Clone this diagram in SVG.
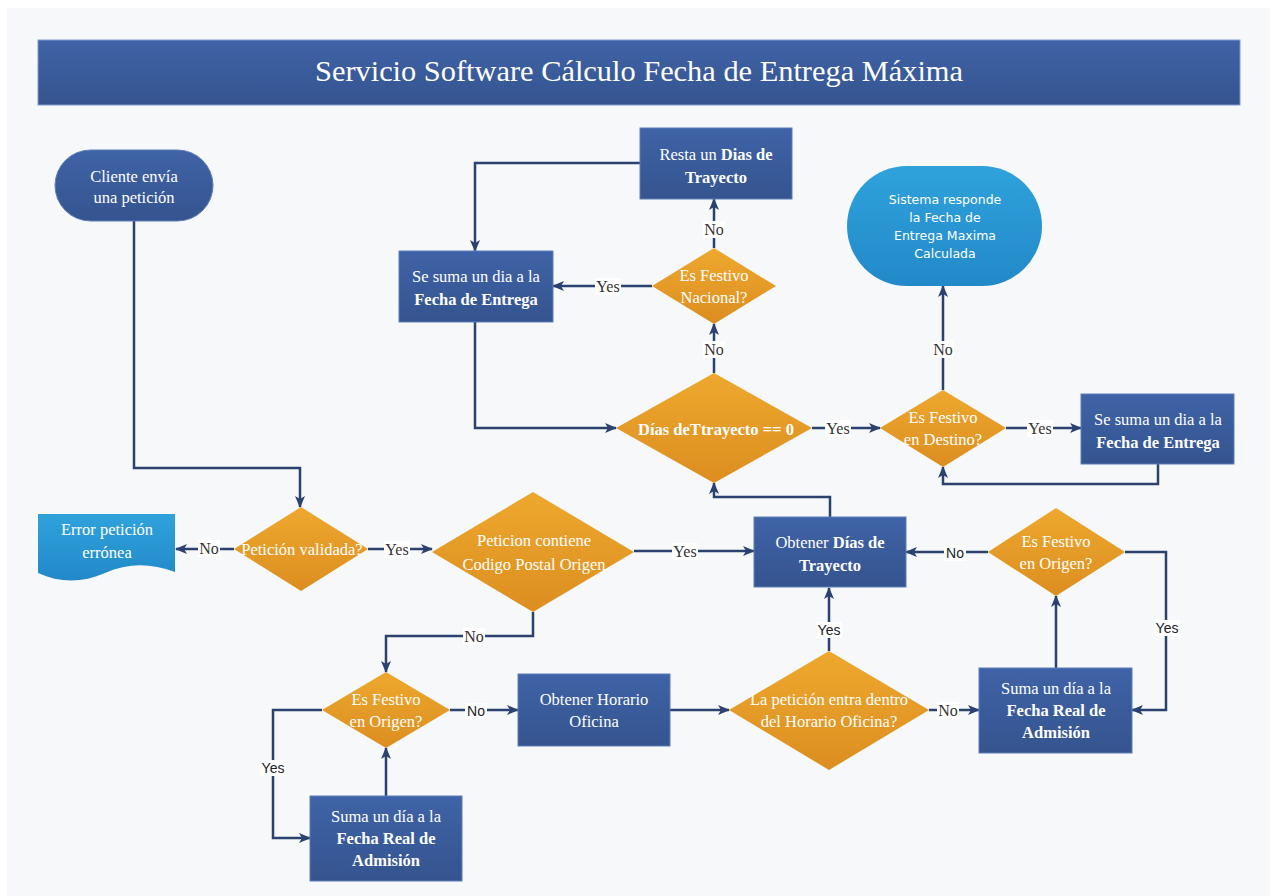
<svg xmlns="http://www.w3.org/2000/svg" width="1277" height="896" viewBox="0 0 1277 896">
<defs>
<linearGradient id="gBox" x1="0" y1="0" x2="0" y2="1"><stop offset="0" stop-color="#3f63a7"/><stop offset="1" stop-color="#35548f"/></linearGradient>
<linearGradient id="gDia" x1="0" y1="0" x2="0" y2="1"><stop offset="0" stop-color="#eea82e"/><stop offset="1" stop-color="#dc8e20"/></linearGradient>
<linearGradient id="gLight" x1="0" y1="0" x2="0" y2="1"><stop offset="0" stop-color="#2fa2dc"/><stop offset="1" stop-color="#2289c8"/></linearGradient>
<marker id="arr" viewBox="0 0 12 10" refX="11" refY="5" markerWidth="12" markerHeight="10" markerUnits="userSpaceOnUse" orient="auto"><path d="M0,0 L12,5 L0,10 L3,5 Z" fill="#2b4170"/></marker>
<style>
.box{fill:url(#gBox);stroke:#5f7fba;stroke-width:1}
.dia{fill:url(#gDia)}
.light{fill:url(#gLight)}
.t{font-family:"Liberation Serif",serif;font-size:16.5px;fill:#ffffff;text-anchor:middle}
.b{font-weight:bold}
.s{font-family:"DejaVu Sans","Liberation Sans",sans-serif;font-size:12.5px;fill:#ffffff;text-anchor:middle}
.c{fill:none;stroke:#2b4170;stroke-width:2.5;marker-end:url(#arr)}
.lbg{fill:#ffffff}
.ls{font-family:"Liberation Serif",serif;font-size:16px;fill:#333333;text-anchor:middle}
.la{font-family:"Liberation Sans",sans-serif;font-size:14px;fill:#222222;text-anchor:middle}
</style>
</defs>
<rect x="0" y="0" width="1277" height="896" fill="#ffffff"/>
<rect x="7" y="8" width="1263" height="888" fill="#f6f8f9"/>
<g id="title">
<rect x="38" y="40" width="1202" height="65" fill="url(#gBox)" stroke="#7f9ccf" stroke-width="1"/>
<text x="639" y="81" font-family="Liberation Serif, serif" font-size="29" fill="#ffffff" text-anchor="middle" textLength="648" lengthAdjust="spacingAndGlyphs">Servicio Software Cálculo Fecha de Entrega Máxima</text>
</g>
<g id="connectors">
<path class="c" d="M134,221 V468 H300 V507"/>
<path class="c" d="M234,549 H176"/>
<path class="c" d="M368,549 H432"/>
<path class="c" d="M634,551 H754"/>
<path class="c" d="M830,517 V497 H714 V483"/>
<path class="c" d="M714,373 V324"/>
<path class="c" d="M714,248 V199"/>
<path class="c" d="M640,163 H475 V251"/>
<path class="c" d="M652,286 H553"/>
<path class="c" d="M475,322 V428 H616"/>
<path class="c" d="M812,428 H880"/>
<path class="c" d="M1006,428 H1081"/>
<path class="c" d="M1158,464 V484 H943 V467"/>
<path class="c" d="M943,390 V286"/>
<path class="c" d="M533,612 V636 H386 V672"/>
<path class="c" d="M450,710 H518"/>
<path class="c" d="M670,710 H729"/>
<path class="c" d="M829,651 V588"/>
<path class="c" d="M929,710 H979"/>
<path class="c" d="M1056,668 V596"/>
<path class="c" d="M988,552 H906"/>
<path class="c" d="M1125,552 H1166 V710 H1132"/>
<path class="c" d="M322,710 H273 V838 H310"/>
<path class="c" d="M386,796 V748"/>
<g id="labels">
<rect class="lbg" x="198" y="540" width="22" height="17"/><text class="ls" x="209" y="554">No</text>
<rect class="lbg" x="384" y="541" width="26" height="17"/><text class="ls" x="397" y="555">Yes</text>
<rect class="lbg" x="672" y="543" width="26" height="17"/><text class="ls" x="685" y="557">Yes</text>
<rect class="lbg" x="463" y="628" width="22" height="17"/><text class="ls" x="474" y="642">No</text>
<rect class="lbg" x="595" y="278" width="26" height="17"/><text class="ls" x="608" y="292">Yes</text>
<rect class="lbg" x="703" y="221" width="22" height="17"/><text class="ls" x="714" y="235">No</text>
<rect class="lbg" x="703" y="341" width="22" height="17"/><text class="ls" x="714" y="355">No</text>
<rect class="lbg" x="825" y="420" width="26" height="17"/><text class="ls" x="838" y="434">Yes</text>
<rect class="lbg" x="1027" y="420" width="26" height="17"/><text class="ls" x="1040" y="434">Yes</text>
<rect class="lbg" x="932" y="341" width="22" height="17"/><text class="ls" x="943" y="355">No</text>
<rect class="lbg" x="937" y="702" width="22" height="17"/><text class="ls" x="948" y="716">No</text>
<rect class="lbg" x="465" y="703" width="22" height="16"/><text class="la" x="476" y="716">No</text>
<rect class="lbg" x="816" y="622" width="26" height="16"/><text class="la" x="829" y="635">Yes</text>
<rect class="lbg" x="944" y="545" width="22" height="16"/><text class="la" x="955" y="558">No</text>
<rect class="lbg" x="1154" y="620" width="26" height="16"/><text class="la" x="1167" y="633">Yes</text>
<rect class="lbg" x="260" y="760" width="26" height="16"/><text class="la" x="273" y="773">Yes</text>
</g>
</g>
<g id="start">
<rect x="55" y="150" width="158" height="71" rx="35.5" fill="url(#gBox)" stroke="#5f7fba" stroke-width="1"/>
<text class="t" x="134" y="182">Cliente envía</text>
<text class="t" x="134" y="203">una petición</text>
</g>
<g id="error">
<path class="light" d="M38,514 H175 V572 C150,563 128,563 105,573 C82,583 60,583 38,573 Z"/>
<text class="t" x="107" y="535">Error petición</text>
<text class="t" x="107" y="558">errónea</text>
</g>
<g id="validada">
<polygon class="dia" points="301,507 368,549 301,591 234,549"/>
<text class="t" x="302" y="555">Petición validada?</text>
</g>
<g id="contiene">
<polygon class="dia" points="533,492 634,552 533,612 432,552"/>
<text class="t" x="534" y="546">Peticion contiene</text>
<text class="t" x="534" y="570">Codigo Postal Origen</text>
</g>
<g id="obtenerDias">
<rect class="box" x="754" y="517" width="152" height="70"/>
<text class="t" x="830" y="548">Obtener <tspan class="b">Días de</tspan></text>
<text class="t b" x="830" y="571">Trayecto</text>
</g>
<g id="diasCero">
<polygon class="dia" points="714,373 812,428 714,483 616,428"/>
<text class="t b" x="716" y="435">Días deTtrayecto == 0</text>
</g>
<g id="festivoNacional">
<polygon class="dia" points="714,248 776,286 714,324 652,286"/>
<text class="t" x="714" y="281">Es Festivo</text>
<text class="t" x="714" y="303">Nacional?</text>
</g>
<g id="resta">
<rect class="box" x="640" y="128" width="152" height="71"/>
<text class="t" x="716" y="160">Resta un <tspan class="b">Dias de</tspan></text>
<text class="t b" x="716" y="183">Trayecto</text>
</g>
<g id="sumaEntrega1">
<rect class="box" x="399" y="251" width="154" height="71"/>
<text class="t" x="476" y="282">Se suma un dia a la</text>
<text class="t b" x="476" y="305">Fecha de Entrega</text>
</g>
<g id="festivoDestino">
<polygon class="dia" points="943,390 1006,428 943,467 880,428"/>
<text class="t" x="943" y="423">Es Festivo</text>
<text class="t" x="943" y="445">en Destino?</text>
</g>
<g id="sumaEntrega2">
<rect class="box" x="1081" y="394" width="153" height="70"/>
<text class="t" x="1158" y="425">Se suma un dia a la</text>
<text class="t b" x="1158" y="448">Fecha de Entrega</text>
</g>
<g id="sistema">
<rect class="light" x="847" y="166" width="195" height="120" rx="60"/>
<text class="s" x="945" y="204">Sistema responde</text>
<text class="s" x="945" y="222">la Fecha de</text>
<text class="s" x="945" y="240">Entrega Maxima</text>
<text class="s" x="945" y="258">Calculada</text>
</g>
<g id="festivoOrigen1">
<polygon class="dia" points="386,672 450,710 386,748 322,710"/>
<text class="t" x="386" y="705">Es Festivo</text>
<text class="t" x="386" y="727">en Origen?</text>
</g>
<g id="horario">
<rect class="box" x="518" y="674" width="152" height="72"/>
<text class="t" x="594" y="705">Obtener Horario</text>
<text class="t" x="594" y="727">Oficina</text>
</g>
<g id="dentroHorario">
<polygon class="dia" points="829,651 929,710 829,770 729,710"/>
<text class="t" x="829" y="705">La petición entra dentro</text>
<text class="t" x="829" y="727">del Horario Oficina?</text>
</g>
<g id="sumaAdmision2">
<rect class="box" x="979" y="668" width="153" height="85"/>
<text class="t" x="1056" y="694">Suma un día a la</text>
<text class="t b" x="1056" y="716">Fecha Real de</text>
<text class="t b" x="1056" y="738">Admisión</text>
</g>
<g id="festivoOrigen2">
<polygon class="dia" points="1056,508 1125,552 1056,596 988,552"/>
<text class="t" x="1056" y="547">Es Festivo</text>
<text class="t" x="1056" y="569">en Origen?</text>
</g>
<g id="sumaAdmision1">
<rect class="box" x="310" y="796" width="152" height="85"/>
<text class="t" x="386" y="822">Suma un día a la</text>
<text class="t b" x="386" y="844">Fecha Real de</text>
<text class="t b" x="386" y="866">Admisión</text>
</g>
</svg>
